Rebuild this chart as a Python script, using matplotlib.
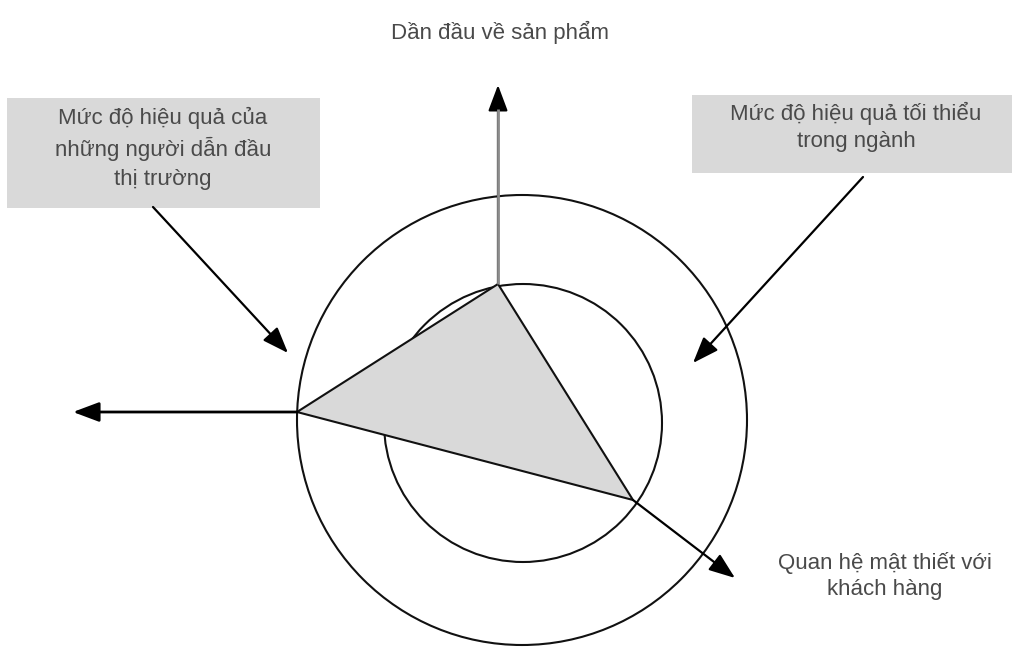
import matplotlib
matplotlib.use("Agg")
import matplotlib.pyplot as plt
from matplotlib.patches import Circle, Polygon, Rectangle

plt.rcParams["font.family"] = ["Liberation Sans", "DejaVu Sans"]

W, H = 1016, 648

# diagram geometry (pixel coords, y down)
outer_center = (522, 420)
outer_r = 225
inner_center = (523, 423)
inner_r = 139

triangle = [(498, 284), (297, 412), (633, 500)]

axis_up = [(498, 284), (498, 85)]
axis_left = [(297, 412), (73, 412)]
axis_diag = [(633, 500), (735, 578)]

callout_left = [(153, 207), (288, 353)]
callout_right = [(863, 177), (693, 363)]

box_left = (7, 98, 313, 110)     # x, y, w, h
box_right = (692, 95, 320, 78)

label_top = "Dần đầu về sản phẩm"
label_left_box = "Mức độ hiệu quả của\nnhững người dẫn đầu\nthị trường"
label_right_box = "Mức độ hiệu quả tối thiểu\ntrong ngành"
label_diag = "Quan hệ mật thiết với\nkhách hàng"

TEXT_C = "#4a4a4a"
GRAY = "#d9d9d9"

fig = plt.figure(figsize=(W / 100, H / 100), dpi=100)
ax = fig.add_axes([0, 0, 1, 1])
ax.set_xlim(0, W)
ax.set_ylim(H, 0)
ax.axis("off")

# grey boxes
for (x, y, w, h) in (box_left, box_right):
    ax.add_patch(Rectangle((x, y), w, h, facecolor=GRAY, edgecolor="none", zorder=1))

# circles
ax.add_patch(Circle(outer_center, outer_r, fill=False, edgecolor="#111111", lw=1.5, zorder=2))
ax.add_patch(Circle(inner_center, inner_r, fill=False, edgecolor="#111111", lw=1.5, zorder=2))

# triangle
ax.add_patch(Polygon(triangle, closed=True, facecolor=GRAY, edgecolor="#111111",
                     lw=1.5, zorder=3))


def arrow(pts, color="#000000", lw=1.6):
    ax.annotate("", xy=pts[1], xytext=pts[0],
                arrowprops=dict(arrowstyle="-|>,head_length=1.6,head_width=0.6",
                                mutation_scale=10, color=color, lw=lw,
                                shrinkA=0, shrinkB=0),
                zorder=4)


arrow(axis_up)
ax.plot([axis_up[0][0], axis_up[1][0]], [axis_up[0][1], axis_up[1][1] + 24],
        color="#8c8c8c", lw=2, zorder=5, solid_capstyle="butt")
arrow(axis_left, lw=2)
arrow(axis_diag)
arrow(callout_left)
arrow(callout_right)

fs = 16
ax.text(500, 32, label_top, ha="center", va="center", fontsize=fs, color=TEXT_C)
ax.text(163, 148, label_left_box, ha="center", va="center", fontsize=fs,
        color=TEXT_C, linespacing=1.45, zorder=6)
ax.text(856, 127, label_right_box, ha="center", va="center", fontsize=fs,
        color=TEXT_C, linespacing=1.4, zorder=6)
ax.text(885, 576, label_diag, ha="center", va="center", fontsize=fs,
        color=TEXT_C, linespacing=1.35, zorder=6)

fig.savefig("out.png", dpi=100, facecolor="white")
plt.close(fig)
